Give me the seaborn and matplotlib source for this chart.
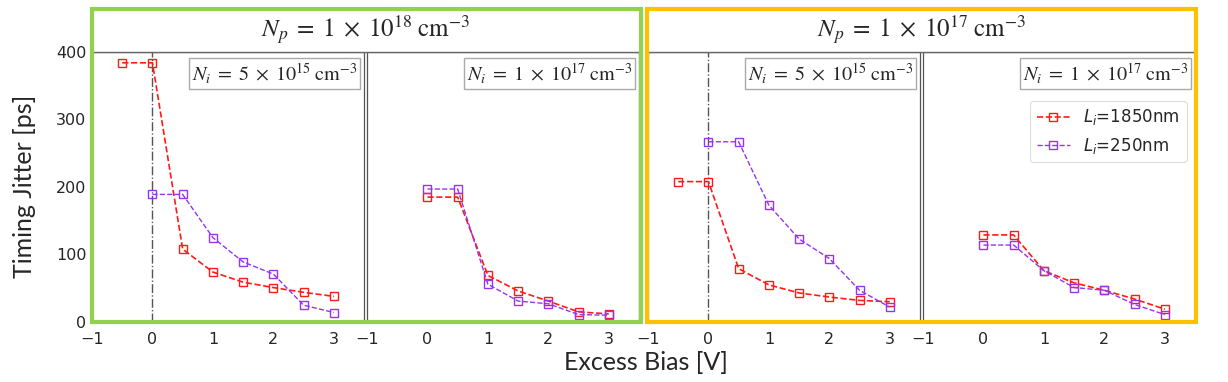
import numpy as np
import pandas as pd
import matplotlib
matplotlib.use('Agg')
import matplotlib.pyplot as plt
import seaborn as sns
from matplotlib.patches import Rectangle
from matplotlib.font_manager import FontProperties

# excess bias points [V]
bias_long = [-0.5, 0, 0.5, 1, 1.5, 2, 2.5, 3]
bias = [0, 0.5, 1, 1.5, 2, 2.5, 3]

# timing jitter [ps], Np = 1e18
red_a = [384, 384, 108, 74, 59, 51, 44, 38]
purple_a = [189, 189, 125, 89, 71, 25, 14]
red_b = [185, 185, 69, 46, 31, 15, 12]
purple_b = [197, 197, 56, 31, 27, 11, 10]
# timing jitter [ps], Np = 1e17
red_c = [208, 208, 79, 55, 43, 37, 32, 30]
purple_c = [267, 267, 173, 123, 94, 47, 22]
red_d = [129, 129, 76, 58, 47, 34, 19]
purple_d = [114, 114, 76, 51, 47, 26, 11]

ni_labels = [r'$N_i\;=\;5\;\times\;10^{15}\;\mathrm{cm}^{-3}$',
             r'$N_i\;=\;1\;\times\;10^{17}\;\mathrm{cm}^{-3}$',
             r'$N_i\;=\;5\;\times\;10^{15}\;\mathrm{cm}^{-3}$',
             r'$N_i\;=\;1\;\times\;10^{17}\;\mathrm{cm}^{-3}$']
np_labels = [r'$N_p\;=\;1\;\times\;10^{18}\;\mathrm{cm}^{-3}$',
             r'$N_p\;=\;1\;\times\;10^{17}\;\mathrm{cm}^{-3}$']
series_labels = [r'$L_i$=1850nm', r'$L_i$=250nm']

RED = '#ff1a1a'
PURPLE = '#9933ee'

sns.set_style('white')
plt.rcParams['font.family'] = ['DejaVu Sans']
plt.rcParams['mathtext.fontset'] = 'stix'

W, H = 1228, 382
fig = plt.figure(figsize=(W / 100, H / 100), dpi=100)

def box(x0, x1, y0, y1):
    return [x0 / W, 1 - y1 / H, (x1 - x0) / W, (y1 - y0) / H]

panels = [
    (92, 364, bias_long, red_a, purple_a, True),
    (367, 639, bias, red_b, purple_b, False),
    (648, 920, bias_long, red_c, purple_c, True),
    (923, 1195, bias, red_d, purple_d, False),
]

axes = []
for i, (x0, x1, xr, yr, yp, vline) in enumerate(panels):
    ax = fig.add_axes(box(x0, x1, 52, 322))
    df_r = pd.DataFrame({'bias': xr, 'jitter': yr})
    df_p = pd.DataFrame({'bias': bias, 'jitter': yp})
    sns.lineplot(data=df_r, x='bias', y='jitter', ax=ax, color=RED,
                 linestyle='--', lw=1.2, marker='s', markersize=6,
                 markerfacecolor='none', markeredgecolor=RED,
                 markeredgewidth=1.0, label=series_labels[0], legend=False)
    sns.lineplot(data=df_p, x='bias', y='jitter', ax=ax, color=PURPLE,
                 linestyle='--', lw=1.0, marker='s', markersize=6,
                 markerfacecolor='none', markeredgecolor=PURPLE,
                 markeredgewidth=1.0, label=series_labels[1], legend=False)
    if vline:
        ax.axvline(0, color='#555555', lw=1.0, ls='-.', zorder=0)
    ax.set_xlim(-1, 3.5)
    ax.set_ylim(0, 400)
    ax.set_xticks([-1, 0, 1, 2, 3])
    ax.set_yticks([0, 100, 200, 300, 400])
    ax.set_xlabel('')
    ax.set_ylabel('')
    ax.tick_params(labelsize=11.5, length=3, direction='in', color='#cccccc', pad=4)
    ax.tick_params(axis='x', pad=7)
    if i > 0:
        ax.set_yticklabels([])
    for s in ax.spines.values():
        s.set_color('#555555')
        s.set_linewidth(0.9)
    ax.text(0.975, 0.965, ni_labels[i], transform=ax.transAxes, ha='right', va='top',
            fontsize=14.5,
            bbox=dict(boxstyle='square,pad=0.15', fc='white', ec='#aaaaaa', lw=1))
    axes.append(ax)

leg = axes[3].legend(loc='upper right', bbox_to_anchor=(1.0, 0.85),
                     prop=FontProperties(size=12, math_fontfamily='dejavusans'),
                     handlelength=2.0, framealpha=1, edgecolor='#dddddd')
leg.get_frame().set_linewidth(0.8)

# header strips
for (x0, x1), lab in zip([(92, 639), (648, 1195)], np_labels):
    hx = fig.add_axes(box(x0, x1, 9, 52))
    hx.set_xticks([])
    hx.set_yticks([])
    for k, s in hx.spines.items():
        s.set_visible(k == 'bottom')
    hx.spines['bottom'].set_color('#666666')
    hx.spines['bottom'].set_linewidth(1.0)
    hx.text(0.5, 0.5, lab, transform=hx.transAxes, ha='center', va='center',
            fontsize=18)

# group frames
for (x0, x1), col in zip([(91.5, 641), (647, 1195.5)], ['#92d050', '#ffc000']):
    fig.patches.append(Rectangle((x0 / W, 1 - 322 / H), (x1 - x0) / W, (322 - 9) / H,
                                 transform=fig.transFigure, fill=False,
                                 ec=col, lw=3.0, zorder=10))

fig.text(25 / W, 1 - 186 / H, 'Timing Jitter [ps]', rotation=90, ha='center',
         va='center', fontsize=18, family=['Lato', 'DejaVu Sans'])
fig.text(646 / W, 1 - 362 / H, 'Excess Bias [V]', ha='center', va='center',
         fontsize=18, family=['Lato', 'DejaVu Sans'])

fig.savefig('out.png', dpi=100)
